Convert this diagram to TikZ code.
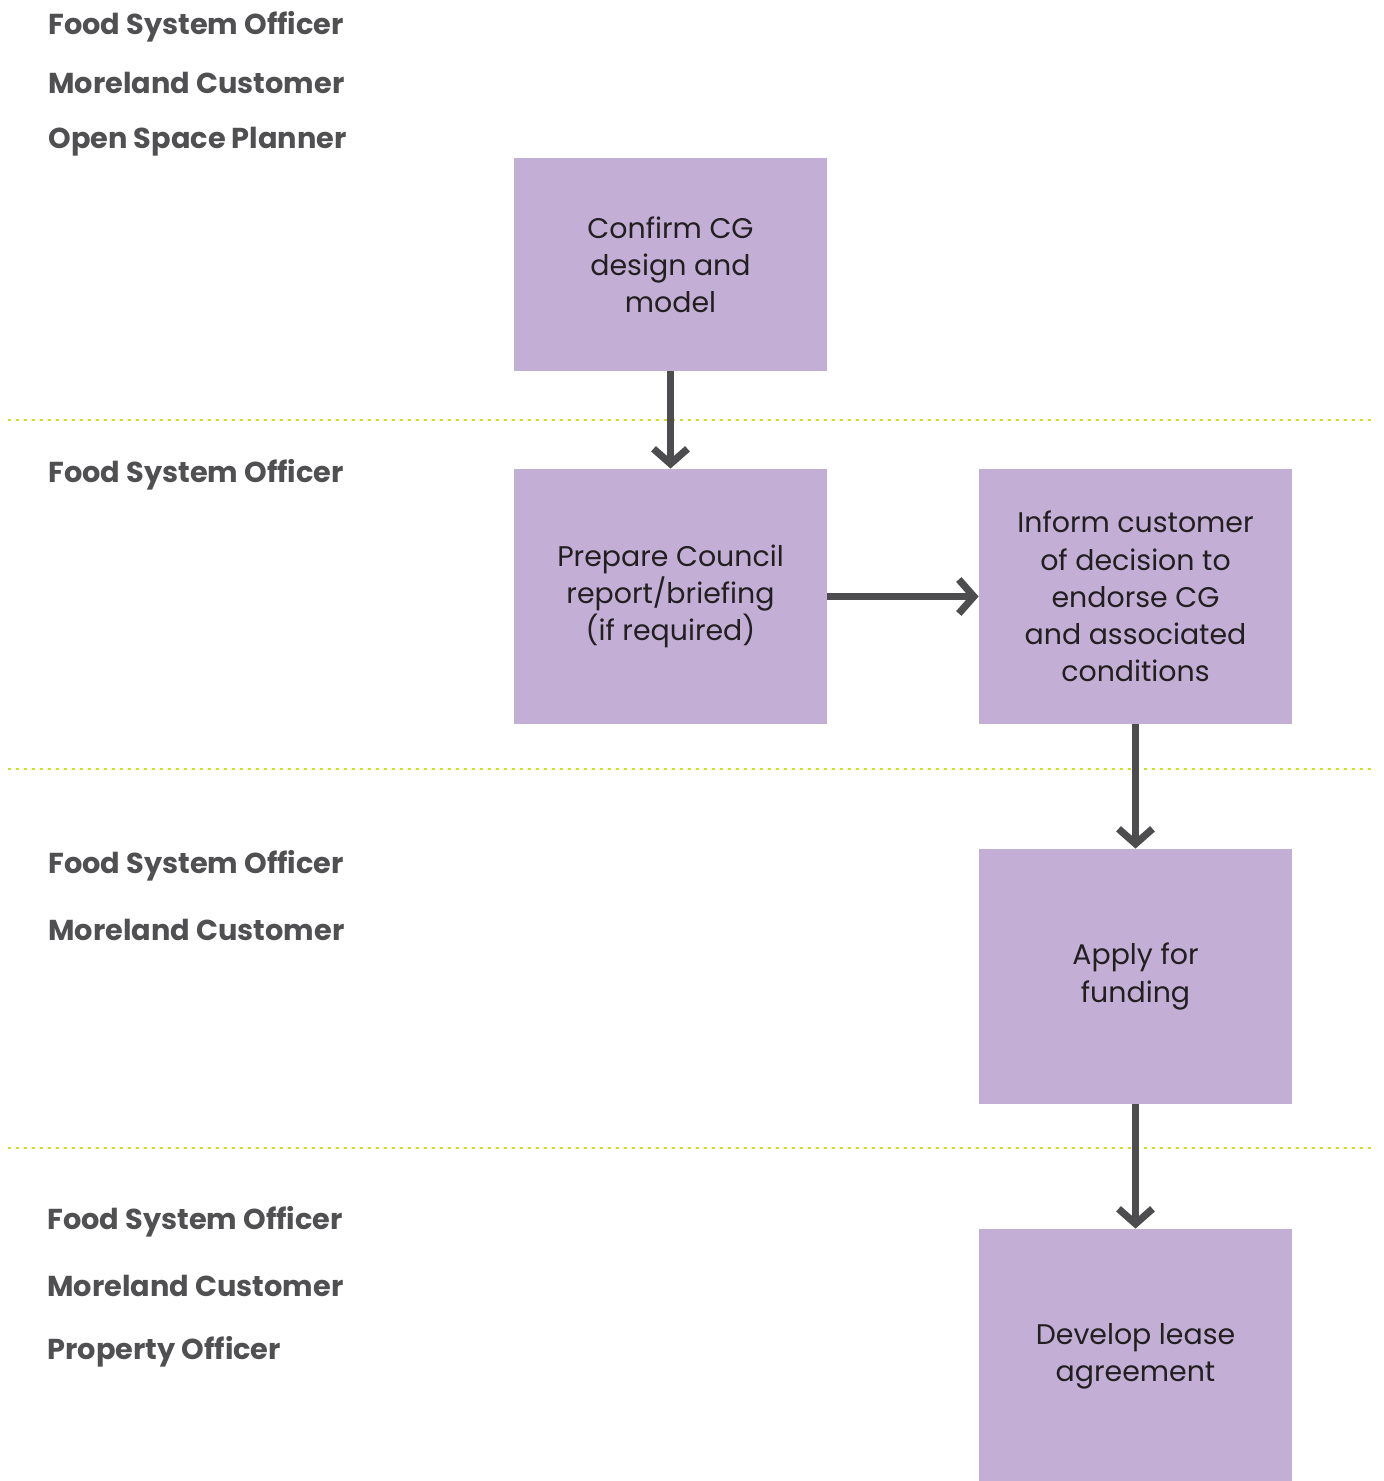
\documentclass[tikz,border=0pt]{standalone}
\usepackage{fontspec}
\setmainfont{Poppins}
\usepackage{tikz}
\usetikzlibrary{positioning,arrows.meta,calc}
\definecolor{boxfill}{RGB}{195,175,214}
\definecolor{arrowgrey}{RGB}{77,77,79}
\definecolor{rolegrey}{RGB}{80,80,82}
\definecolor{lanegreen}{RGB}{205,222,40}
\definecolor{boxtext}{RGB}{35,31,32}
\tikzset{
    taskbox/.style={fill=boxfill,draw=none,minimum width=156.5pt,align=center,
        text=boxtext,font=\fontsize{14.2}{18.6}\selectfont,inner sep=0pt,
        execute at begin node={\rule{0pt}{19.5pt}}},
    role/.style={anchor=west,text=rolegrey,font=\bfseries\fontsize{14.4}{17}\selectfont,inner sep=0pt},
    lane/.style={lanegreen,line width=1.4pt,dash pattern=on 1.4pt off 2.6pt},
    flow/.style={arrowgrey,line width=3.6pt,-{Straight Barb[length=7.5pt,width=17pt,line width=3.6pt]}}
}

\begin{document}
\begin{tikzpicture}[x=0.5pt,y=-0.5pt]
    \useasboundingbox (0,0) rectangle (1384,1481);

    % LANES
    \draw[lane] (8,420) -- (1372,420);
    \draw[lane] (8,769) -- (1372,769);
    \draw[lane] (8,1148) -- (1372,1148);

    % ROLES
    \node[role] (r1a) at (48,27) {Food System Officer};
    \node[role] (r1b) at (48,83) {Moreland Customer};
    \node[role] (r1c) at (48,142) {Open Space Planner};
    \node[role] (r2a) at (48,475) {Food System Officer};
    \node[role] (r3a) at (48,866) {Food System Officer};
    \node[role] (r3b) at (48,930) {Moreland Customer};
    \node[role] (r4a) at (47,1222) {Food System Officer};
    \node[role] (r4b) at (47,1286) {Moreland Customer};
    \node[role] (r4c) at (47,1352) {Property Officer};

    % TASKS
    \node[taskbox,minimum height=106.5pt] (confirm) at (670.5,264.5) {Confirm CG\\design and\\model};
    \node[taskbox,minimum height=127.5pt] (prepare) at (670.5,596.5) {Prepare Council\\report/briefing\\(if required)};
    \node[taskbox,minimum height=127.5pt] (inform) at (1135.5,596.5) {Inform customer\\of decision to\\endorse CG\\and associated\\conditions};
    \node[taskbox,minimum height=127.5pt] (apply) at (1135.5,976.5) {Apply for\\funding};
    \node[taskbox,minimum height=127.5pt] (lease) at (1135.5,1356.5) {Develop lease\\agreement};

    % FLOW
    \draw[flow] (confirm) -- (prepare);
    \draw[flow] (prepare) -- (inform);
    \draw[flow] (inform) -- (apply);
    \draw[flow] (apply) -- (lease);

\end{tikzpicture}
\end{document}
